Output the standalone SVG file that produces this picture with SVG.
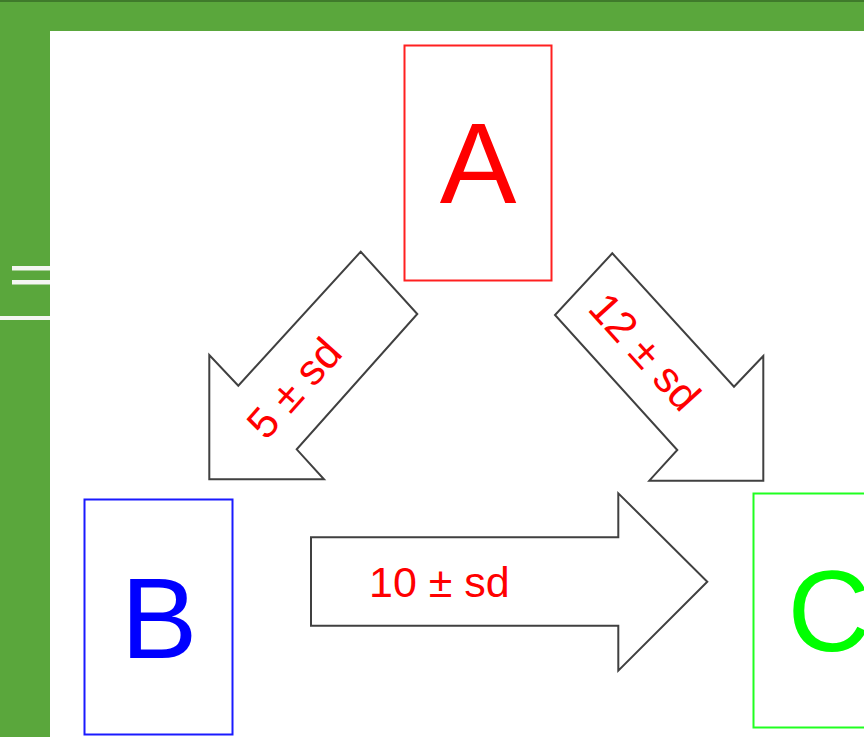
<svg xmlns="http://www.w3.org/2000/svg" width="864" height="737" viewBox="0 0 864 737">
  <style>
    .frame { fill: #5aa73c; }
    .bar { fill: #f4f6f2; }
    .box { fill: #ffffff; stroke-width: 2; }
    .arrow { fill: #ffffff; stroke: #404040; stroke-width: 2; stroke-linejoin: miter; }
    .big { font-family: "Liberation Sans", Arial, sans-serif; font-size: 115px; text-anchor: middle; }
    .lbl { font-family: "Liberation Sans", Arial, sans-serif; font-size: 43px; fill: #ff0000; }
  </style>

  <!-- page frame -->
  <rect class="frame" x="0" y="0" width="864" height="737"/>
  <rect x="0" y="0" width="864" height="2" fill="#3f7a2b"/>
  <rect x="50" y="31" width="814" height="706" fill="#ffffff"/>
  <!-- side menu marks -->
  <rect class="bar" x="12" y="266" width="38" height="4.5"/>
  <rect class="bar" x="12" y="280" width="38" height="4.5"/>
  <rect class="bar" x="0" y="316" width="50" height="4"/>

  <!-- connectors -->
  <g id="connectors">
    <g id="edge-A-B">
      <polygon class="arrow" points="360.7,251.7 417.3,314 296.7,449.3 324,479.3 209.3,479.3 209.3,355 238.3,385.7"/>
      <text class="lbl" text-anchor="middle" transform="translate(294,388) rotate(-48.3)" x="0" y="15">5 ± sd</text>
    </g>
    <g id="edge-A-C">
      <polygon class="arrow" points="612.3,253.3 555,315 677.3,450 649.3,480.7 763.3,480.7 763.3,356 734,386.7"/>
      <text class="lbl" text-anchor="middle" transform="translate(645,351.5) rotate(47.8)" x="0" y="15">12 ± sd</text>
    </g>
    <g id="edge-B-C">
      <polygon class="arrow" points="311,537.3 618.3,537.3 618.3,493.3 707.3,581.7 618.3,670.7 618.3,625.7 311,625.7"/>
      <text class="lbl" x="369" y="597">10 ± sd</text>
    </g>
  </g>

  <!-- nodes -->
  <g id="node-A">
    <rect class="box" x="404.5" y="45.5" width="147" height="235" stroke="#ff2020"/>
    <text class="big" x="478" y="203" fill="#ff0000">A</text>
  </g>
  <g id="node-B">
    <rect class="box" x="84.5" y="499.5" width="148" height="235" stroke="#1a1aff"/>
    <text class="big" x="159" y="658" fill="#0000ff">B</text>
  </g>
  <g id="node-C">
    <rect class="box" x="753.5" y="493.5" width="148" height="234" stroke="#20ff20"/>
    <text class="big" x="829" y="651" fill="#00ff00">C</text>
  </g>
</svg>
